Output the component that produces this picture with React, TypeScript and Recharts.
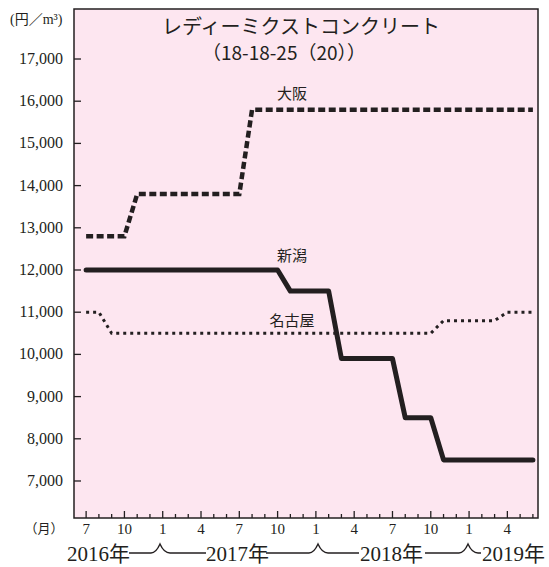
import { LineChart, Line, XAxis, YAxis, CartesianGrid } from "recharts";

// months from 2016-07 to 2019-06
const months = [
  "2016-07", "2016-08", "2016-09", "2016-10", "2016-11", "2016-12",
  "2017-01", "2017-02", "2017-03", "2017-04", "2017-05", "2017-06",
  "2017-07", "2017-08", "2017-09", "2017-10", "2017-11", "2017-12",
  "2018-01", "2018-02", "2018-03", "2018-04", "2018-05", "2018-06",
  "2018-07", "2018-08", "2018-09", "2018-10", "2018-11", "2018-12",
  "2019-01", "2019-02", "2019-03", "2019-04", "2019-05", "2019-06",
];

// 円/m3
const osaka = [
  12800, 12800, 12800, 12800, 13800, 13800,
  13800, 13800, 13800, 13800, 13800, 13800,
  13800, 15800, 15800, 15800, 15800, 15800,
  15800, 15800, 15800, 15800, 15800, 15800,
  15800, 15800, 15800, 15800, 15800, 15800,
  15800, 15800, 15800, 15800, 15800, 15800,
];
const niigata = [
  12000, 12000, 12000, 12000, 12000, 12000,
  12000, 12000, 12000, 12000, 12000, 12000,
  12000, 12000, 12000, 12000, 11500, 11500,
  11500, 11500, 9900, 9900, 9900, 9900,
  9900, 8500, 8500, 8500, 7500, 7500,
  7500, 7500, 7500, 7500, 7500, 7500,
];
const nagoya = [
  11000, 11000, 10500, 10500, 10500, 10500,
  10500, 10500, 10500, 10500, 10500, 10500,
  10500, 10500, 10500, 10500, 10500, 10500,
  10500, 10500, 10500, 10500, 10500, 10500,
  10500, 10500, 10500, 10500, 10800, 10800,
  10800, 10800, 10800, 11000, 11000, 11000,
];

const yTicks = [7000, 8000, 9000, 10000, 11000, 12000, 13000, 14000, 15000, 16000, 17000];
const years = ["2016年", "2017年", "2018年", "2019年"];
const title = "レディーミクストコンクリート";
const subtitle = "（18-18-25（20））";

const INK = "#231f20";
const PINK = "#fde6f0";
const JP = '"Noto Sans CJK JP", "Noto Sans", sans-serif';
const SERIF = '"Liberation Serif", "DejaVu Serif", "Noto Sans CJK JP", serif';

const data = months.map((m, i) => ({
  i,
  month: Number(m.slice(5)),
  osaka: osaka[i],
  niigata: niigata[i],
  nagoya: nagoya[i],
}));

function MonthTick(props: any) {
  const { x, y, payload } = props;
  const idx = payload.value;
  const major = idx % 3 === 0;
  return (
    <g>
      <line x1={x} x2={x} y1={y} y2={y - (major ? 7 : 4)} stroke={INK} strokeWidth={1.3} />
      {major && (
        <text x={x} y={y + 16} textAnchor="middle" fontSize={15} fontFamily={SERIF} fill={INK}>
          {data[idx].month}
        </text>
      )}
    </g>
  );
}

// y labels in serif, tick drawn inward from the frame
function PriceTick(props: any) {
  const { y, payload } = props;
  return (
    <g>
      <line x1={74} x2={81} y1={y} y2={y} stroke={INK} strokeWidth={1.3} />
      <text x={63} y={y + 5} textAnchor="end" fontSize={16} fontFamily={SERIF} fill={INK}>
        {payload.value.toLocaleString("en-US")}
      </text>
    </g>
  );
}

// bracket under the month labels
function yearRow() {
  const base = 553;
  const peak = (px: number) =>
    `L${px - 9},${base} Q${px - 4},${base} ${px},${base - 9} Q${px + 4},${base} ${px + 10},${base}`;
  return (
    <g>
      <path d={`M129,${base} ${peak(160)} L206,${base}`} fill="none" stroke={INK} strokeWidth={1.4} />
      <path d={`M266,${base} ${peak(318)} L359,${base}`} fill="none" stroke={INK} strokeWidth={1.4} />
      <path d={`M425,${base} ${peak(468)} L481,${base}`} fill="none" stroke={INK} strokeWidth={1.4} />
      {[67, 206, 360, 482].map((x, k) => (
        <text key={k} x={x} y={561} fontSize={21} fontFamily={SERIF} fill={INK}>
          {years[k]}
        </text>
      ))}
    </g>
  );
}

export default function App() {
  return (
    <div style={{ position: "absolute", left: 0, top: 0, width: 549, height: 567, background: "#fff" }}>
      <LineChart width={549} height={567} data={data} margin={{ top: 9, right: 11, bottom: 19, left: 14 }}>
        <CartesianGrid horizontal={false} vertical={false} fill={PINK} stroke="none" />
        <XAxis
          type="number"
          dataKey="i"
          domain={[-0.95, 35.4]}
          ticks={data.map((d) => d.i)}
          interval={0}
          allowDataOverflow
          axisLine={false}
          tickLine={false}
          tickSize={0}
          tickMargin={0}
          height={30}
          tick={(p: any) => <MonthTick {...p} />}
        />
        <YAxis
          type="number"
          domain={[6123, 18185]}
          ticks={yTicks}
          interval={0}
          allowDataOverflow
          width={60}
          axisLine={false}
          tickLine={false}
          tickSize={0}
          tickMargin={0}
          tick={(p: any) => <PriceTick {...p} />}
        />
        <Line type="linear" dataKey="nagoya" stroke={INK} strokeWidth={3} strokeDasharray="3 4" dot={false} activeDot={false} isAnimationActive={false} />
        <Line type="linear" dataKey="osaka" stroke={INK} strokeWidth={4.5} strokeDasharray="7 3.5" dot={false} activeDot={false} isAnimationActive={false} />
        <Line type="linear" dataKey="niigata" stroke={INK} strokeWidth={5} strokeLinecap="round" strokeLinejoin="round" dot={false} activeDot={false} isAnimationActive={false} />
      </LineChart>
      <svg width={549} height={567} style={{ position: "absolute", left: 0, top: 0, pointerEvents: "none" }}>
        <rect x={74} y={9} width={464} height={509} fill="none" stroke={INK} strokeWidth={1.5} />
        <text x={301} y={34} textAnchor="middle" fontSize={20} fontFamily={JP} fill={INK}>{title}</text>
        <text x={284} y={60} textAnchor="middle" fontSize={19} fontFamily={JP} fill={INK}>{subtitle}</text>
        <text x={10} y={24} fontSize={14} fontFamily={SERIF} fill={INK}>(円／m³)</text>
        <text x={44} y={533} textAnchor="middle" fontSize={13} fontFamily={JP} fill={INK}>（月）</text>
        <text x={292} y={99} textAnchor="middle" fontSize={15} fontFamily={JP} fill={INK}>大阪</text>
        <text x={292} y={261} textAnchor="middle" fontSize={15} fontFamily={JP} fill={INK}>新潟</text>
        <text x={292} y={326} textAnchor="middle" fontSize={15} fontFamily={JP} fill={INK}>名古屋</text>
        {yearRow()}
      </svg>
    </div>
  );
}
